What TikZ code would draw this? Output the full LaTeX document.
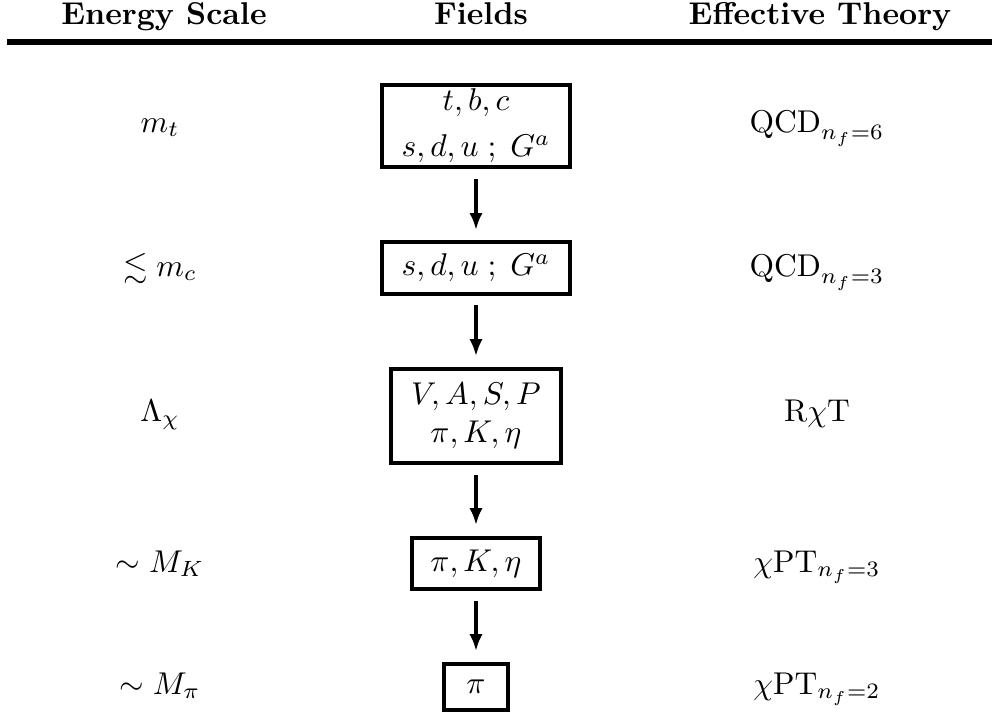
\documentclass[tikz,border=0pt]{standalone}
\usepackage{amssymb}
\usetikzlibrary{arrows.meta}
\begin{document}
\begin{tikzpicture}[x=0.3175pt,y=-0.3175pt,
  hdr/.style={anchor=base,font=\bfseries,inner sep=0pt},
  lbl/.style={anchor=base,inner sep=0pt},
  fieldbox/.style={draw,line width=1.27pt,inner sep=0pt,align=center},
  flow/.style={line width=1.27pt,-{Latex[length=5.4pt,width=4.2pt]},shorten <=2.9pt,shorten >=3.3pt}]
\useasboundingbox (0,0) rectangle (992,715);
% header
\node[hdr] (hE) at (164,24) {Energy Scale};
\node[hdr] (hF) at (481,24) {Fields};
\node[hdr] (hT) at (820,24) {Effective Theory};
\coordinate (rl) at (7,42);
\coordinate (rr) at (992,42);
\draw[line width=1.9pt] (rl) -- (rr);
% boxes
\node[fieldbox,minimum width=60pt,minimum height=26.3pt] (b1) at (476,126) {$t,b,c$\\[2.6pt]$s,d,u\;;\;G^a$};
\node[fieldbox,minimum width=60pt,minimum height=16.2pt] (b2) at (476,268) {$s,d,u\;;\;G^a$};
\node[fieldbox,minimum width=54pt,minimum height=30.1pt] (b3) at (476,416) {$V,A,S,P$\\$\pi,K,\eta$};
\node[fieldbox,minimum width=40.6pt,minimum height=16.5pt] (b4) at (476,563.5) {$\pi,K,\eta$};
\node[fieldbox,minimum width=20.3pt,minimum height=14.9pt] (b5) at (476,687) {$\pi$};
% arrows
\draw[flow] (b1) -- (b2);
\draw[flow] (b2) -- (b3);
\draw[flow] (b3) -- (b4);
\draw[flow] (b4) -- (b5);
% energy scales
\node[lbl] (e1) at (160,132) {$m_t$};
\node[lbl] (e2) at (160,276) {$\lesssim m_c$};
\node[lbl] (e3) at (160,421) {$\Lambda_\chi$};
\node[lbl] (e4) at (160,572) {$\sim M_K$};
\node[lbl] (e5) at (160,694) {$\sim M_\pi$};
% effective theories
\node[lbl] (t1) at (817,132) {$\mathrm{QCD}_{n_f=6}$};
\node[lbl] (t2) at (817,276) {$\mathrm{QCD}_{n_f=3}$};
\node[lbl] (t3) at (817,421) {$\mathrm{R}\chi\mathrm{T}$};
\node[lbl] (t4) at (817,572) {$\chi\mathrm{PT}_{n_f=3}$};
\node[lbl] (t5) at (817,694) {$\chi\mathrm{PT}_{n_f=2}$};
\end{tikzpicture}
\end{document}
